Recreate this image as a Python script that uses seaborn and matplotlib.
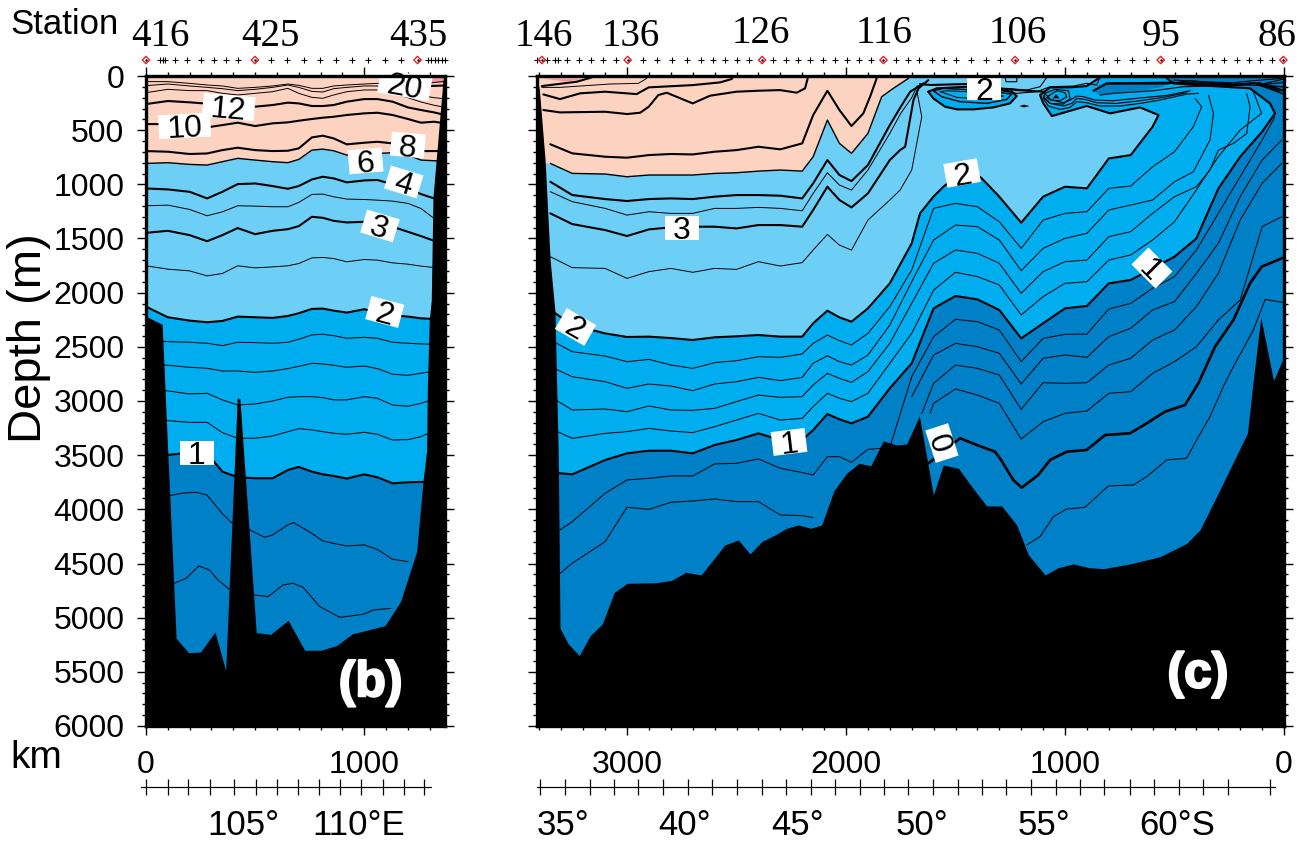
import numpy as np
import matplotlib
matplotlib.use("Agg")
import matplotlib.pyplot as plt
from matplotlib.patches import Rectangle
from matplotlib.transforms import Affine2D, blended_transform_factory as blend
import matplotlib.patheffects as pe
import seaborn as sns

sns.set_style("white")
plt.rcParams['font.family'] = ['Liberation Sans', 'DejaVu Sans']
plt.rcParams['text.color'] = 'black'
plt.rcParams['axes.labelcolor'] = 'black'
plt.rcParams['xtick.color'] = 'black'
plt.rcParams['ytick.color'] = 'black'

PEACH, LIGHT, MID, DARK, PINK = '#FCD3C1', '#6DCFF6', '#00AEEF', '#0080C6', '#F4989D'
BOLD, MEDIUM, THIN = 1.5, 1.0, 0.7

# ---------- panel (b): isotherm depths (m) against distance (km)
b_km = [0,100,200,280,350,420,500,580,650,700,760,810,860,920,1000,1060,1130,1200,1260,1320,1370]
b_t18 = [52,52,68,83,92,114,105,92,74,86,114,114,92,83,74,68,70,75,80,60,50]
b_t16 = [89,74,92,105,117,135,123,105,83,105,142,148,117,105,92,92,115,140,180,200,210]
b_t14 = [154,123,135,135,160,175,160,145,114,160,197,206,175,145,129,129,160,200,240,270,290]
b_t12 = [259,231,243,255,265,275,283,268,246,253,277,277,268,237,213,213,237,290,314,336,360]
b_t10 = [444,444,468,474,453,431,462,437,428,413,397,385,376,360,345,339,360,397,431,422,437]
b_t8 = [693,699,720,715,684,662,684,693,690,668,567,551,576,631,616,607,622,668,693,693,693]
b_t6 = [807,800,816,822,791,760,776,791,800,770,684,675,690,730,721,715,708,730,776,782,790]
b_t4 = [1038,1047,1069,1130,1069,998,992,1016,1041,1016,955,930,945,982,964,960,1000,1038,1090,1130,1160]
b_t35 = [1198,1192,1232,1290,1254,1198,1201,1207,1207,1167,1093,1090,1115,1136,1140,1146,1155,1176,1223,1315,1340]
b_t3 = [1448,1429,1469,1525,1469,1404,1460,1429,1414,1386,1300,1309,1337,1352,1346,1360,1392,1438,1478,1521,1540]
b_t25 = [1752,1783,1799,1845,1823,1752,1771,1762,1752,1731,1679,1675,1685,1715,1694,1700,1725,1737,1755,1768,1775]
b_t2 = [2129,2227,2258,2273,2261,2221,2227,2233,2215,2190,2150,2147,2166,2184,2153,2180,2209,2221,2237,2243,2245]
b_t18d = [2440,2452,2458,2467,2489,2458,2461,2467,2458,2430,2390,2384,2397,2421,2412,2421,2458,2467,2473,2477,2480]
b_t16d = [2660,2670,2689,2698,2723,2723,2735,2723,2701,2680,2652,2658,2670,2689,2677,2701,2753,2763,2744,2723,2720]
b_t14d = [2880,2907,2935,2929,2990,3037,3027,3000,2966,2960,2960,2969,2990,2990,2960,2975,3037,3049,3021,2984,2980]
b_t12d = [3170,3181,3197,3197,3292,3344,3344,3323,3283,3255,3267,3283,3298,3307,3289,3307,3360,3357,3329,3274,3260]
b_t1 = [3480,3498,3477,3483,3652,3704,3713,3713,3637,3609,3652,3677,3692,3716,3677,3704,3760,3750,3747,3744,3744]
b_km08 = [108,169,230,279,349,392,475,544,580,649,677,759,810,860,920,1000,1059,1130,1200]
b_t08 = [3874,3850,3843,3867,4037,4123,4190,4258,4237,4144,4123,4221,4292,4314,4338,4329,4369,4461,4483]
b_km06 = [128,184,242,291,330,380,498,559,628,674,720,796,888,995,1041,1121]
b_t06 = [4683,4637,4523,4560,4652,4735,4791,4806,4698,4683,4720,4898,4997,4969,4929,4914]
b_km20 = [1300,1335,1365]
b_t20 = [92,90,88]
b_pink_km = [1290,1365]
b_pink_top = [20,20]
b_pink_bot = [65,65]
b_floor_km = [0,3,74,100,138,195,250,316,365,418,430,505,571,651,727,801,873,945,1095,1166,1240,1270,1286,1289,1298,1307,1315,1361,1370]
b_floor = [2170,2221,2292,3483,5190,5323,5317,5132,5489,2975,2975,5138,5154,5024,5301,5301,5258,5150,5074,4852,4390,3729,3452,2898,2252,2070,1115,37,0]

# ---------- panel (c): left part shares a distance grid
c_km = [3350,3250,3100,3000,2900,2800,2700,2600,2500,2400,2300,2200,2150,2085,2030,1975,1900,1800,1700]
c_t2 = [2160,2298,2376,2409,2406,2419,2437,2412,2403,2391,2406,2406,2283,2166,2228,2268,2145,1914,1545]
c_t2_km = [1662,1601,1555,1500,1400,1380,1300,1200,1100,1000,900,800,700,600,573]
c_t2_d = [1268,1114,1022,930,914,945,1114,1354,1114,1022,1037,761,730,468,361]
c_t2_back_km = [657,794,901,1060,1099,1114,1068,977,901,840,840]
c_t2_back_d = [290,345,277,370,253,176,105,105,93,13,0]
c_t18 = [2437,2545,2585,2637,2616,2668,2699,2646,2628,2591,2597,2566,2468,2391,2443,2483,2376,2129,1791]
c_t18_km = [1600,1500,1400,1300,1200,1100,1000,900,800,700,600,500,414,376,406]
c_t18_d = [1222,1176,1207,1345,1591,1330,1268,1253,1037,1016,838,699,468,284,207]
c_t16 = [2683,2776,2822,2883,2843,2862,2905,2843,2822,2782,2812,2782,2652,2582,2637,2668,2576,2299,1899]
c_t16_km = [1600,1500,1400,1300,1200,1100,1000,900,800,700,600,500,414,338,322,345]
c_t16_d = [1514,1376,1391,1514,1797,1591,1499,1452,1237,1191,1145,976,884,591,345,176]
c_t14 = [2960,3083,3074,3099,3046,3083,3086,3068,3006,2945,2966,2960,2852,2745,2791,2828,2729,2468,2099]
c_t14_km = [1600,1500,1400,1300,1200,1100,1000,900,800,700,600,500,400,338,300,231,170,155,170]
c_t14_d = [1729,1606,1637,1729,2006,1806,1714,1699,1483,1437,1268,1114,1022,868,684,622,530,284,161]
c_t12 = [3253,3345,3299,3283,3253,3277,3292,3237,3176,3114,3176,3160,3052,2929,2975,3006,2929,2652,2376]
c_t12_km = [1600,1500,1400,1300,1200,1100,1000,900,800,700,600,500,400,300,200,102,140]
c_t12_d = [1976,1812,1852,1929,2206,2037,1914,1899,1699,1652,1514,1345,1052,745,499,345,145]
c_t1 = [3659,3677,3545,3483,3459,3459,3483,3406,3360,3299,3360,3360,3268,3120,3169,3206,3145,2883,2652]
c_t1_km = [1600,1500,1400,1300,1200,1100,1000,900,800,700,600,500,400,300,200,100,41]
c_t1_d = [2145,2031,2062,2160,2422,2283,2145,2123,1914,1883,1776,1668,1499,1040,745,514,345]
c_t1_top_km = [64,155,398,505,535]
c_t1_top_d = [253,114,84,68,22]
c_t08 = [4250,4114,3852,3729,3714,3692,3692,3581,3575,3535,3621,3661,3683,3514,3514,3566,3446,3430,2776]
c_t08_km = [1600,1500,1400,1300,1200,1100,1000,900,800,700,600,500,400,300,200,100,41]
c_t08_d = [2406,2246,2268,2345,2637,2422,2385,2382,2151,2099,1960,1852,1606,1268,929,591,375]
c_t06 = [4667,4498,4298,3981,4000,3935,3923,3904,3929,3929,4052,4058,4077]
c_r06_km = [1700,1600,1500,1400,1300,1200,1100,1000,900,800,700,600,500,400,300,200,100,10]
c_r06_d = [2960,2576,2468,2499,2560,2843,2606,2575,2597,2406,2329,2160,2083,1822,1545,1114,776,591]
c_r04_km = [1654,1600,1500,1400,1300,1200,1100,1000,900,800,700,600,500,400,300,200,100,10]
c_r04_d = [3114,2837,2668,2699,2760,3077,2831,2837,2831,2668,2606,2437,2345,2129,1822,1329,991,806]
c_r02_km = [1616,1600,1500,1400,1300,1200,1100,1000,900,800,700,600,500,400,300,200,100,10]
c_r02_d = [3114,3022,2889,2945,3022,3351,3191,3114,3092,2929,2914,2745,2637,2499,2252,2068,1391,1299]
c_r0_km = [1624,1594,1479,1403,1320,1297,1236,1198,1122,1068,992,901,817,703,627,543,452,391,315,231,155,102,10,0]
c_r0_d = [3575,3529,3344,3406,3468,3529,3729,3800,3683,3544,3468,3452,3314,3298,3206,3098,3037,2837,2499,2252,1914,1760,1683,1680]
c_rm02_km = [1175,1114,1053,992,909,802,688,627,536,445,399,338,270,231,140,86,10,0]
c_rm02_d = [4329,4252,4068,3997,3981,3784,3775,3698,3544,3529,3360,3144,2837,2683,2345,2062,2089,2085]
c_t25 = [1668,1769,1776,1868,1806,1776,1812,1776,1785,1714,1754,1723,1606,1462,1561,1607,1330,1145]
c_t25_km = [1753,1700,1654,1677]
c_t25_d = [1053,868,376,130]
c_t3 = [1268,1367,1422,1477,1416,1397,1391,1391,1407,1376,1376,1391,1237,1022,1145,1213,1084,776]
c_t3_km = [1753,1730,1692,1669,1624]
c_t3_d = [684,653,222,114,38]
c_t35 = [1068,1160,1222,1284,1253,1268,1268,1222,1222,1213,1222,1244,1084,893,1007,1053,868,530]
c_t35_km = [1750,1700,1675]
c_t35_d = [345,200,90]
c_t4 = [976,1099,1136,1154,1136,1130,1136,1114,1099,1099,1105,1130,991,776,914,970,822,453]
c_t4_km = [1750,1707,1646]
c_t4_d = [284,145,68]
c_t6 = [807,899,905,930,914,914,914,899,893,878,868,878,745,407,622,714,530]
c_t6_km = [1837,1784,1715]
c_t6_d = [191,114,22]
c_t8 = [630,714,745,754,730,720,724,699,684,653,677,622,361,136,314,462]
c_t8_km = [1921,1890,1860]
c_t8_d = [345,191,22]
c_t10_km = [3382,3306,3100,2999,2940,2901,2857,2819,2700,2621,2501,2400,2301,2225,2187,2175]
c_t10_d = [314,336,330,351,339,284,176,154,253,182,145,136,130,154,114,22]
c_t12u_km = [3382,3306,3214,3100,2956,2901,2700,2575,2522,2517]
c_t12u_d = [170,213,160,145,167,105,84,59,28,7]
c_t14u_km = [3389,3306,3077,2948,2910]
c_t14u_d = [105,105,74,68,22]
c_t16u_km = [3389,3230,3161]
c_t16u_d = [93,53,13]
c_pink_km = [3394,3207,3275,3336]
c_pink_d = [22,28,53,37]
c_floor_km = [3411,3400,3374,3351,3329,3314,3306,3268,3218,3169,3113,3058,2999,2865,2796,2731,2662,2553,2492,2438,2385,2324,2271,2218,2161,2111,2055,1997,1941,1887,1830,1769,1723,1665,1601,1556,1487,1426,1358,1289,1221,1167,1091,1030,962,893,825,703,566,444,384,308,167,140,106,48,10,0]
c_floor = [0,130,776,1700,2175,3483,5098,5243,5350,5169,5058,4766,4683,4677,4655,4581,4606,4329,4283,4412,4298,4237,4175,4144,4175,4144,3827,3667,3575,3597,3369,3406,3397,3138,3868,3591,3621,3790,3969,3969,4144,4421,4606,4538,4504,4538,4548,4504,4437,4314,4191,3883,3298,2806,2228,2812,2637,2600]
# near-surface structure of panel (c)
c_dark_km = [41,64,155,398,505,535,825,825,3,3]
c_dark_d = [345,253,114,84,68,22,13,0,0,222]
c_lens2_km = [870,840,809,535,551,627,779,840]
c_lens2_d = [145,83,53,62,99,130,160,176]
c_lens_km = [1624,1601,1548,1494,1418,1327,1251,1220,1243,1296,1449,1586,1624]
c_lens_d = [145,207,283,308,308,290,253,185,145,130,99,114,145]
c_in2_km = [1601,1563,1479,1357,1266,1243,1357,1555,1601]
c_in2_d = [136,191,237,253,216,167,136,114,136]
c_in3_km = [1570,1494,1372,1281,1357,1540,1570]
c_in3_d = [145,197,216,185,154,136,145]
c_cap_km = [1662,1616,1449,1296,1220,1099]
c_cap_d = [74,83,74,114,130,145]
c_a_km = [1099,1076,1022,977,946,901,840,748,657,566,444,391]
c_a_d = [207,277,308,290,237,247,277,277,253,222,167,160]
c_b_km = [1099,1068,1007,969,946,908,855,764,657,551,444]
c_b_d = [185,253,277,253,207,216,247,253,228,197,154]
c_c_km = [1091,1060,1007,977,946,916,863,779,657,535,429]
c_c_d = [167,222,247,222,185,191,222,228,203,179,136]
c_d_km = [1076,1038,1000,992,1022,1068,1083,1076]
c_d_d = [185,136,154,191,228,222,197,185]
c_e_km = [1091,1045,984,977,1007,1068,1099,1091]
c_e_d = [160,123,136,207,259,253,197,160]
c_u1_km = [870,809,535,383,231,140,79,10]
c_u1_d = [136,68,62,68,83,68,83,130]
c_u2_km = [840,779,596,459,338,170,10]
c_u2_d = [176,160,136,99,93,83,99]
c_u3_km = [505,383,231,140,10]
c_u3_d = [37,53,62,43,22]
c_u4_km = [809,535,429,231,109,10]
c_u4_d = [74,74,43,74,62,160]
c_s1_km = [840,855,901,961,1068,1129,1220,1296]
c_s1_d = [7,83,68,93,99,145,160,130]
c_s2_km = [1083,1114,1175,1266]
c_s2_d = [13,99,130,114]
c_box_km = [1274,1220,1220,1269,1274]
c_box_d = [13,13,53,53,13]
c_tri_km = [1056,1041,1025]
c_tri_d = [207,167,207]
c_dia_km = [1208,1187,1162,1187]
c_dia_d = [277,265,277,290]
c_fan_end = [30,60,100,140,165]

# ---------- stations, labels, rulers
b_st = [66,77,88,133,189,250,310,368,423,574,647,722,796,870,946,1019,1097,1170,1290,1308,1323,1338,1354,1368]
b_st_red = [0,499,1244]
b_st_names = ['416','425','435']
b_st_name_km = [68,570,1249]
b_st_name_y = [1.061,1.061,1.061]
c_st = [3409,3364,3329,3316,3275,3219,3164,3108,3050,2928,2864,2796,2727,2663,2606,2552,2496,2441,2332,2275,2220,2164,2106,2050,1994,1939,1886,1773,1718,1665,1608,1552,1497,1430,1362,1296,1162,1096,1030,962,893,828,761,695,630,496,441,383,330,274,216,162,109,53]
c_st_red = [3389,2997,2383,1829,1228,563,3]
c_st_names = ['146','136','126','116','106','95','86']
c_st_name_km = [3379,2984,2389,1824,1215,560,30]
c_st_name_y = [1.061,1.061,1.0655,1.0655,1.0655,1.061,1.061]
b_labels = [('20',1186,83,-10),('12',379,286,-5),('10',177,461,3),('8',1200,637,-5),('6',1006,784,5),('4',1181,978,-17),('3',1072,1384,-17),('2',1094,2178,-15),('1',232,3480,0)]
c_labels = [('3',2749,1403,0),('2',3235,2317,-30),('1',2260,3378,7),('0',1562,3388,-72),('1',603,1772,-45),('2',1470,895,10),('2',1370,111,0)]
b_lat_ticks = [0,99,193,294,404,505,601,697,793,889,985,1084,1180,1276]
c_lat_ticks = [3397,3283,3170,3060,2950,2835,2722,2610,2500,2385,2272,2160,2050,1937,1825,1715,1602,1490,1378,1268,1155,1042,930,820,705,595,480,370,255,64]
b_lat_names = [('105°',446),('110°E',975)]
c_lat_names = [('35°',3290),('40°',2738),('45°',2220),('50°',1653),('55°',1096),('60°S',486)]

W, H = 1307, 844
fig = plt.figure(figsize=(W/100, H/100), dpi=100)
def new_axes(x0, x1):
    return fig.add_axes([x0/W, 1-726/H, (x1-x0)/W, 650/H])
axb, axc = new_axes(146, 445), new_axes(537, 1284)

def line(ax, k, d, lw=THIN):
    sns.lineplot(x=list(k), y=list(d), ax=ax, color='k', linewidth=lw, sort=False,
                 estimator=None, errorbar=None, legend=False, zorder=2,
                 solid_joinstyle='round', solid_capstyle='round')

# ---- panel b fills and lines
axb.set_facecolor(DARK)
axb.fill_between(b_km, b_t1, b_t2, color=MID, lw=0, zorder=1)
axb.fill_between(b_km, b_t2, b_t6, color=LIGHT, lw=0, zorder=1)
axb.fill_between(b_km, b_t6, 0, color=PEACH, lw=0, zorder=1)
axb.fill_between(b_pink_km, b_pink_top, b_pink_bot, color=PINK, lw=0, zorder=1)
for d, lw in [(b_t18,THIN),(b_t16,THIN),(b_t14,THIN),(b_t12,BOLD),(b_t10,BOLD),(b_t8,BOLD),(b_t6,MEDIUM),
              (b_t4,BOLD),(b_t35,THIN),(b_t3,BOLD),(b_t25,THIN),(b_t2,BOLD),(b_t18d,THIN),(b_t16d,THIN),
              (b_t14d,THIN),(b_t12d,THIN),(b_t1,BOLD)]:
    line(axb, b_km, d, lw)
line(axb, b_km08, b_t08)
line(axb, b_km06, b_t06)
line(axb, b_km20, b_t20, BOLD)
axb.fill_between(b_floor_km, b_floor, 6000, color='k', lw=0, zorder=3)

# ---- panel c fills and lines
axc.set_facecolor(DARK)
k1 = c_km + c_t1_km
d1 = c_t1 + c_t1_d
axc.fill([3411]+k1+[41,3411], [d1[0]]+d1+[0,0], color=MID, lw=0, zorder=1)
k2 = c_km + c_t2_km + c_t2_back_km
d2 = c_t2 + c_t2_d + c_t2_back_d
axc.fill([3411]+k2+[3411], [d2[0]]+d2+[0], color=LIGHT, lw=0, zorder=1)
k6 = c_km[:17] + c_t6_km
d6 = c_t6 + c_t6_d
axc.fill([3411]+k6+[1700,3411], [d6[0]]+d6+[0,0], color=PEACH, lw=0, zorder=1)
axc.fill(c_pink_km, c_pink_d, color=PINK, lw=0, zorder=1)
axc.fill(c_dark_km, c_dark_d, color=DARK, lw=0, zorder=1)
axc.fill(c_lens2_km, c_lens2_d, color=DARK, lw=0, zorder=1)
axc.fill(c_lens_km, c_lens_d, color=MID, lw=0, zorder=1)

line(axc, k2, d2, BOLD)
line(axc, c_km+c_t18_km, c_t18+c_t18_d)
line(axc, c_km+c_t16_km, c_t16+c_t16_d)
line(axc, c_km+c_t14_km, c_t14+c_t14_d)
line(axc, c_km+c_t12_km, c_t12+c_t12_d)
line(axc, k1+c_t1_top_km, d1+c_t1_top_d, BOLD)
line(axc, c_km+c_t08_km, c_t08+c_t08_d)
line(axc, c_km[:13], c_t06)
line(axc, c_r06_km, c_r06_d)
line(axc, c_r04_km, c_r04_d)
line(axc, c_r02_km, c_r02_d)
line(axc, c_r0_km, c_r0_d, BOLD+0.4)
line(axc, c_rm02_km, c_rm02_d)
line(axc, c_km[:18]+c_t25_km, c_t25+c_t25_d)
line(axc, c_km[:18]+c_t3_km, c_t3+c_t3_d, BOLD)
line(axc, c_km[:18]+c_t35_km, c_t35+c_t35_d)
line(axc, c_km[:18]+c_t4_km, c_t4+c_t4_d, BOLD)
line(axc, k6, d6, MEDIUM)
line(axc, c_km[:16]+c_t8_km, c_t8+c_t8_d, BOLD)
line(axc, c_t10_km, c_t10_d, BOLD)
line(axc, c_t12u_km, c_t12u_d, BOLD)
line(axc, c_t14u_km, c_t14u_d)
line(axc, c_t16u_km, c_t16u_d, BOLD)
line(axc, c_lens_km, c_lens_d, BOLD)
line(axc, c_in2_km, c_in2_d, MEDIUM)
line(axc, c_in3_km, c_in3_d)
line(axc, c_cap_km, c_cap_d, BOLD)
for k, d in [(c_a_km,c_a_d),(c_b_km,c_b_d),(c_c_km,c_c_d),(c_d_km,c_d_d),(c_e_km,c_e_d),(c_u2_km,c_u2_d),
             (c_u3_km,c_u3_d),(c_u4_km,c_u4_d),(c_s1_km,c_s1_d),(c_s2_km,c_s2_d),(c_box_km,c_box_d)]:
    line(axc, k, d, 0.8)
line(axc, c_u1_km, c_u1_d, BOLD)
for e in c_fan_end:
    line(axc, [117, 5], [83, e], 0.8)
axc.fill(c_tri_km, c_tri_d, color='k', lw=0, zorder=2)
axc.fill(c_dia_km, c_dia_d, color='k', lw=0, zorder=2)
axc.fill_between(c_floor_km, c_floor, 6000, color='k', lw=0, zorder=3)

# ---- axes
for ax, xlim, major, lat_ticks, lat_names, st, st_red, names, name_km, name_y, labels, lat_line in [
    (axb, (0, 1370), [0,1000], b_lat_ticks, b_lat_names, b_st, b_st_red, b_st_names, b_st_name_km, b_st_name_y, b_labels, (-25,1305)),
    (axc, (3411, 0), [3000,2000,1000,0], c_lat_ticks, c_lat_names, c_st, c_st_red, c_st_names, c_st_name_km, c_st_name_y, c_labels, (3411,40)),
]:
    ax.set_xlim(*xlim)
    ax.set_ylim(6000, 0)
    ax.set_xticks(major)
    ax.set_xticks([v for v in range(0, 3500, 100) if min(xlim) <= v <= max(xlim)], minor=True)
    ax.set_yticks(range(0, 6001, 500))
    ax.set_yticks(range(0, 6001, 100), minor=True)
    ax.tick_params(axis='both', which='major', direction='out', length=6.5, width=1, top=True, right=True,
                   left=True, bottom=True, labelsize=23, pad=9, color='k', labelcolor='k')
    ax.tick_params(axis='both', which='minor', direction='out', length=3, width=1, top=True, right=True,
                   left=True, bottom=True, color='k')
    ax.tick_params(axis='x', which='major', pad=11)
    ax.set_xlabel(''); ax.set_ylabel('')
    for s in ax.spines.values():
        s.set_linewidth(2.4); s.set_color('k'); s.set_zorder(10); s.set_visible(True)
    tr = blend(ax.transData, ax.transAxes)
    ax.scatter(st, [1.0246]*len(st), marker='+', s=22, c='k', linewidths=0.8, transform=tr, clip_on=False)
    ax.scatter(st_red, [1.0246]*len(st_red), marker='D', s=14, facecolors='none', edgecolors='#E8202A',
               linewidths=1.0, transform=tr, clip_on=False, zorder=5)
    ax.scatter(st_red, [1.0246]*len(st_red), marker='o', s=3, c='k', linewidths=0, transform=tr, clip_on=False, zorder=6)
    for name, k, y in zip(names, name_km, name_y):
        ax.text(k, y, name, transform=tr, ha='center', va='center', fontsize=28, family='Liberation Serif')
    for txt, k, d, rot in labels:
        px, py = ax.transData.transform((k, d))
        w = 34 if len(txt) == 1 else 52
        ax.add_patch(Rectangle((-w/2, -12), w, 24, facecolor='white', edgecolor='none', zorder=7, clip_on=False,
                               transform=Affine2D().rotate_deg(rot).translate(px, py)))
        ax.text(k, d, txt, fontsize=23, ha='center', va='center_baseline', rotation=rot, rotation_mode='anchor',
                zorder=8)
    ax.plot(lat_line, [-0.094, -0.094], color='k', lw=0.9, transform=tr, clip_on=False)
    ax.vlines(lat_ticks, -0.106, -0.082, color='k', lw=0.9, transform=tr, clip_on=False)
    for txt, k in lat_names:
        ax.text(k, -0.1535, txt, transform=tr, ha='center', va='center', fontsize=25)

axb.set_yticklabels([str(v) for v in range(0, 6001, 500)])
axb.set_xticklabels(['0', '1000'])
axc.set_yticklabels([])
axc.set_xticklabels(['3000', '2000', '1000', '0'])

fig.text(10/W, 1-25/H, 'Station', fontsize=25, ha='left', va='center')
fig.text(10/W, 1-758/H, 'km', fontsize=28, ha='left', va='center')
fig.text(29/W, 1-338/H, 'Depth (m)', fontsize=34, rotation=90, ha='center', va='center')
stroke = [pe.withStroke(linewidth=1.5, foreground='white')]
axb.text(1029, 5605, '(b)', color='white', fontsize=36, fontweight='bold', ha='center', va='center', zorder=9, path_effects=stroke)
axc.text(393, 5525, '(c)', color='white', fontsize=36, fontweight='bold', ha='center', va='center', zorder=9, path_effects=stroke)

fig.savefig('out.png', dpi=100, facecolor='white')
